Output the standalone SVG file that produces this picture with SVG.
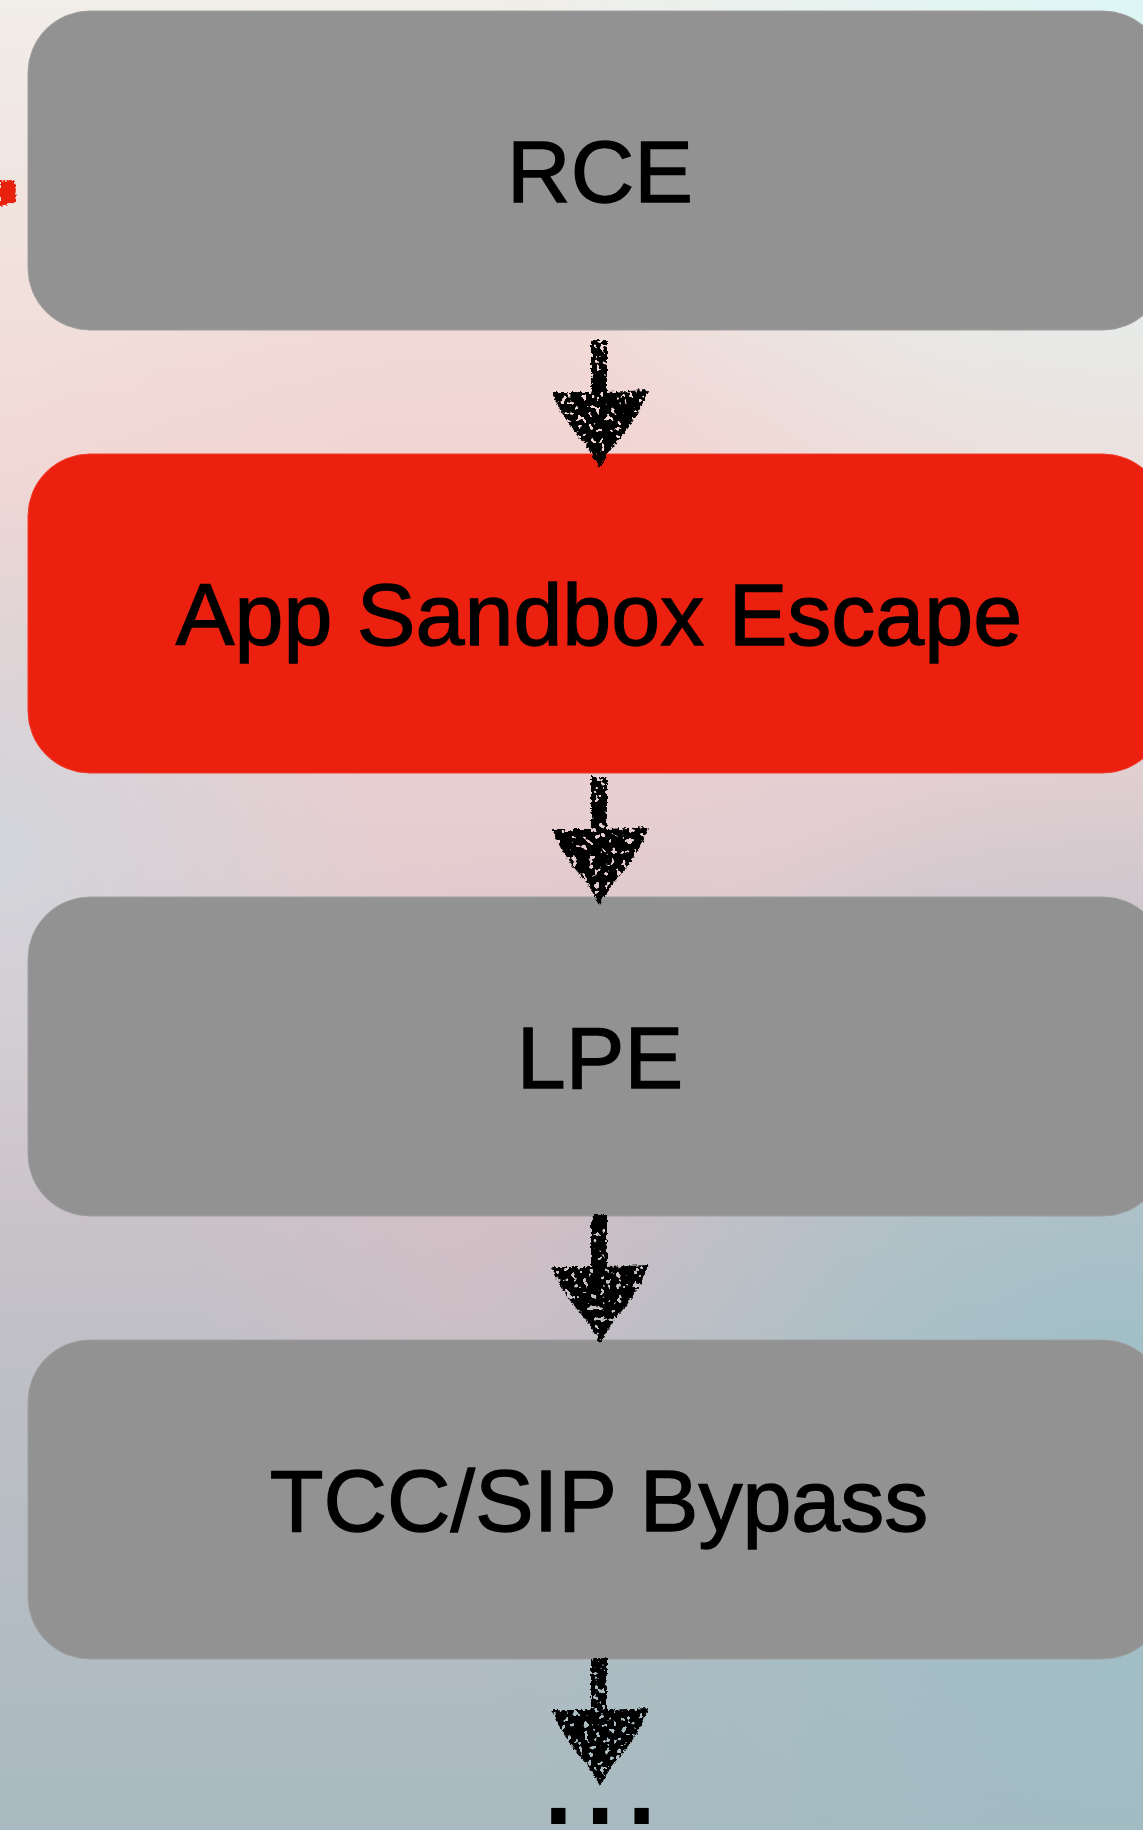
<svg xmlns="http://www.w3.org/2000/svg" width="1143" height="1830" viewBox="0 0 1143 1830">
  <style>
    .box { fill: #929292; stroke: #9e9e9e; stroke-width: 1; }
    .box.hot { fill: #ec200e; stroke: #f03a2a; }
    .label { font-family: "Liberation Sans", Arial, Helvetica, sans-serif; font-size: 88px; fill: #000; stroke: #000; stroke-width: 1.3px; text-anchor: middle; }
    .arrow { fill: #000; }
  </style>
  <defs>
    <linearGradient id="bg" x1="0" y1="0" x2="0" y2="1">
      <stop offset="0" stop-color="#f1ede8"/>
      <stop offset="0.25" stop-color="#f1d9d5"/>
      <stop offset="0.5" stop-color="#dccacf"/>
      <stop offset="0.75" stop-color="#bfbfc6"/>
      <stop offset="1" stop-color="#a9b9c0"/>
    </linearGradient>
    <radialGradient id="cyan" cx="1143" cy="0" r="650" gradientUnits="userSpaceOnUse">
      <stop offset="0" stop-color="#dcf7f6" stop-opacity="0.95"/>
      <stop offset="1" stop-color="#dcf7f6" stop-opacity="0"/>
    </radialGradient>
    <radialGradient id="pink" cx="480" cy="600" r="520" gradientUnits="userSpaceOnUse">
      <stop offset="0" stop-color="#f0cfd0" stop-opacity="0.7"/>
      <stop offset="1" stop-color="#f0cfd0" stop-opacity="0"/>
    </radialGradient>
    <radialGradient id="pink2" cx="560" cy="1200" r="380" gradientUnits="userSpaceOnUse">
      <stop offset="0" stop-color="#dbbcc3" stop-opacity="0.7"/>
      <stop offset="1" stop-color="#dbbcc3" stop-opacity="0"/>
    </radialGradient>
    <radialGradient id="teal" cx="1143" cy="1450" r="700" gradientUnits="userSpaceOnUse">
      <stop offset="0" stop-color="#98bfc7" stop-opacity="0.9"/>
      <stop offset="1" stop-color="#98bfc7" stop-opacity="0"/>
    </radialGradient>
    <radialGradient id="leftgrey" cx="0" cy="850" r="380" gradientUnits="userSpaceOnUse">
      <stop offset="0" stop-color="#cfd7dd" stop-opacity="0.8"/>
      <stop offset="1" stop-color="#cfd7dd" stop-opacity="0"/>
    </radialGradient>
    <filter id="edge" x="-20%" y="-20%" width="140%" height="140%">
      <feTurbulence type="fractalNoise" baseFrequency="0.35" numOctaves="2" seed="3" result="n"/>
      <feDisplacementMap in="SourceGraphic" in2="n" scale="5" xChannelSelector="R" yChannelSelector="G"/>
    </filter>
    <filter id="rough" x="-20%" y="-10%" width="140%" height="120%">
      <feTurbulence type="fractalNoise" baseFrequency="0.35" numOctaves="2" seed="3" result="n"/>
      <feDisplacementMap in="SourceGraphic" in2="n" scale="5" xChannelSelector="R" yChannelSelector="G" result="d"/>
      <feTurbulence type="fractalNoise" baseFrequency="0.18" numOctaves="2" seed="9" result="h"/>
      <feColorMatrix in="h" type="matrix" values="0 0 0 0 0  0 0 0 0 0  0 0 0 0 0  0 0 0 -25 16.5" result="holes"/>
      <feComposite in="d" in2="holes" operator="in"/>
    </filter>
    <path id="arr" class="arrow" d="M591,0 L607,0 L607,52 L648,50 Q641,76 613,106 L600,128 L587,106 Q560,76 552,52 L591,52 Z"/>
  </defs>

  <g id="background">
    <rect x="0" y="0" width="1143" height="1830" fill="url(#bg)"/>
    <rect x="0" y="0" width="1143" height="1830" fill="url(#pink)"/>
    <rect x="0" y="0" width="1143" height="1830" fill="url(#pink2)"/>
    <rect x="0" y="0" width="1143" height="1830" fill="url(#leftgrey)"/>
    <rect x="0" y="0" width="1143" height="1830" fill="url(#cyan)"/>
    <rect x="0" y="0" width="1143" height="1830" fill="url(#teal)"/>
    <path d="M0,181 L14,180 L16,186 L15,203 L4,205 L0,206 Z" fill="#e8200c" filter="url(#edge)"/>
  </g>

  <g id="node-rce">
    <rect class="box" x="28" y="11" width="1137" height="319" rx="62" ry="62"/>
    <text class="label" x="600" y="202">RCE</text>
  </g>
  <g id="node-sandbox">
    <rect class="box hot" x="28" y="454" width="1137" height="319" rx="62" ry="62"/>
    <text class="label" x="599" y="645">App Sandbox Escape</text>
  </g>
  <g id="node-lpe">
    <rect class="box" x="28" y="897" width="1137" height="319" rx="62" ry="62"/>
    <text class="label" x="600" y="1088">LPE</text>
  </g>
  <g id="node-tcc">
    <rect class="box" x="28" y="1340" width="1137" height="319" rx="62" ry="62"/>
    <text class="label" x="599" y="1531">TCC/SIP Bypass</text>
  </g>

  <g id="connectors" filter="url(#rough)">
    <use href="#arr" transform="translate(0,340)"/>
    <use href="#arr" transform="translate(0,777)"/>
    <use href="#arr" transform="translate(0,1215)"/>
    <use href="#arr" transform="translate(0,1658)"/>
  </g>

  <g id="more">
    <text x="600" y="1824" style="font-family: 'Liberation Sans', Arial, sans-serif; font-size: 150px; text-anchor: middle; fill: #000;">...</text>
  </g>
</svg>
